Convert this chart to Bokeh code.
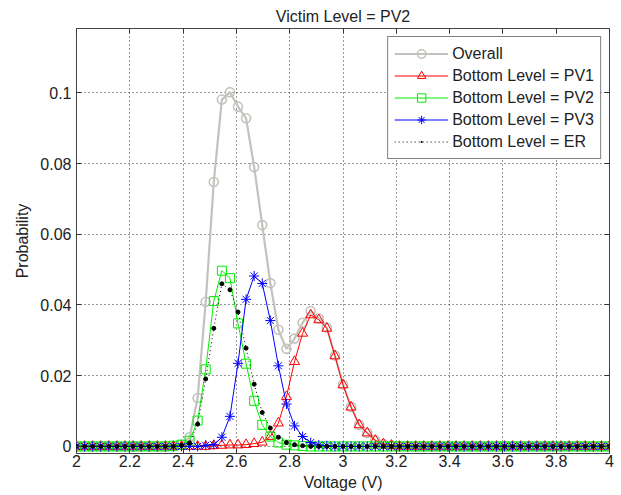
import numpy as np
from bokeh.plotting import figure
from bokeh.models import Range1d, FixedTicker, LinearAxis, Legend, LegendItem
from bokeh.embed import file_html
from bokeh.resources import INLINE

# ---------------- data ----------------
voltage = np.round(np.linspace(2.0, 4.0, 67), 5)

overall = ([0.0] * 13 +
           [0.0005, 0.0026, 0.0137, 0.0409, 0.0748, 0.0981, 0.1002, 0.0961, 0.0928,
            0.0790, 0.0626, 0.0462, 0.0330, 0.0276, 0.0305, 0.0350, 0.0383, 0.0362,
            0.0336, 0.0257, 0.0175, 0.0112, 0.0061, 0.0038, 0.0017, 0.0007, 0.0003] +
           [0.0] * 27)

pv1 = ([0.0] * 17 +
       [0.0002, 0.0003, 0.0004, 0.0004, 0.0005, 0.0008, 0.0012, 0.0028, 0.0066,
        0.0141, 0.0240, 0.0320, 0.0372, 0.0358, 0.0334, 0.0256, 0.0174, 0.0111,
        0.0061, 0.0038, 0.0017, 0.0007, 0.0003] +
       [0.0] * 27)

pv2 = ([0.0] * 12 +
       [0.0002, 0.0005, 0.0016, 0.0073, 0.0218, 0.0411, 0.0497, 0.0476, 0.0348,
        0.0234, 0.0129, 0.0061, 0.0028, 0.0011, 0.0005, 0.0003, 0.0001] +
       [0.0] * 38)

pv3 = ([0.0] * 16 +
       [0.0003, 0.0005, 0.0026, 0.0085, 0.0235, 0.0416, 0.0482, 0.0461, 0.0356,
        0.0228, 0.0120, 0.0058, 0.0028, 0.0011, 0.0004, 0.0002] +
       [0.0] * 35)

er = ([0.0] * 13 +
      [0.0003, 0.0010, 0.0063, 0.0191, 0.0334, 0.0460, 0.0443, 0.0380, 0.0278,
       0.0176, 0.0096, 0.0052, 0.0026, 0.0011, 0.0005, 0.0002] +
      [0.0] * 38)

x_ticks = [2.0, 2.2, 2.4, 2.6, 2.8, 3.0, 3.2, 3.4, 3.6, 3.8, 4.0]
x_tick_labels = ["2", "2.2", "2.4", "2.6", "2.8", "3", "3.2", "3.4", "3.6", "3.8", "4"]
y_ticks = [0.0, 0.02, 0.04, 0.06, 0.08, 0.1]
y_tick_labels = ["0", "0.02", "0.04", "0.06", "0.08", "0.1"]

series_labels = ["Overall", "Bottom Level = PV1", "Bottom Level = PV2",
                 "Bottom Level = PV3", "Bottom Level = ER"]

# ---------------- figure ----------------
FONT = "Liberation Sans"
TXT = "#222222"

p = figure(width=616, height=494,
           x_range=Range1d(2, 4), y_range=Range1d(-0.002, 0.1182),
           output_backend="svg", toolbar_location=None,
           min_border_left=76, min_border_right=7,
           min_border_top=28, min_border_bottom=41,
           title="Victim Level = PV2")

p.title.align = "center"
p.title.text_font = FONT
p.title.text_font_size = "16px"
p.title.text_font_style = "normal"
p.title.text_color = TXT
p.title.standoff = 8
p.title.offset = 0

p.outline_line_color = "#444444"
p.outline_line_width = 1
p.background_fill_color = "white"
p.border_fill_color = "white"

xt = FixedTicker(ticks=x_ticks)
yt = FixedTicker(ticks=y_ticks)


def style_axis(ax, ticker, labels=None):
    ax.ticker = ticker
    ax.axis_line_color = None
    ax.major_tick_in = 5
    ax.major_tick_out = 0
    ax.minor_tick_line_color = None
    ax.major_tick_line_color = "#333333"
    ax.major_label_text_font = FONT
    ax.major_label_text_color = TXT
    ax.axis_label_text_font = FONT
    ax.axis_label_text_font_size = "16px"
    ax.axis_label_text_font_style = "normal"
    ax.axis_label_text_color = TXT
    if labels is None:
        ax.major_label_text_font_size = "0px"
        ax.major_label_text_color = None
        ax.major_label_standoff = 0
    else:
        ax.major_label_text_font_size = "16px"
        ax.major_label_overrides = labels


style_axis(p.xaxis[0], xt, {v: s for v, s in zip(x_ticks, x_tick_labels)})
style_axis(p.yaxis[0], yt, {v: s for v, s in zip(y_ticks, y_tick_labels)})
p.xaxis[0].major_label_standoff = 1
p.xaxis[0].axis_label = "Voltage (V)"
p.xaxis[0].axis_label_standoff = 4
p.yaxis[0].major_label_standoff = 5
p.yaxis[0].axis_label = "Probability"
p.yaxis[0].axis_label_standoff = 6

top_ax = LinearAxis()
style_axis(top_ax, xt)
p.add_layout(top_ax, "above")
right_ax = LinearAxis()
style_axis(right_ax, yt)
p.add_layout(right_ax, "right")

for g in (p.xgrid[0], p.ygrid[0]):
    g.grid_line_color = "#333333"
    g.grid_line_dash = "1 3"
    g.grid_line_width = 1
p.xgrid[0].ticker = xt
p.ygrid[0].ticker = yt

# ---------------- series ----------------
items = []

GRAY = "#c4c2bd"
l0 = p.line(voltage, overall, line_color=GRAY, line_width=2.2)
s0 = p.scatter(voltage, overall, marker="circle", size=9, fill_color=None,
               line_color=GRAY, line_width=1.6)
items.append(LegendItem(label=series_labels[0], renderers=[l0, s0]))

l1 = p.line(voltage, pv1, line_color="#ff0000", line_width=1)
s1 = p.scatter(voltage, pv1, marker="triangle", size=10, fill_color=None,
               line_color="#ff0000", line_width=1)
items.append(LegendItem(label=series_labels[1], renderers=[l1, s1]))

l2 = p.line(voltage, pv2, line_color="#00ee00", line_width=1)
s2 = p.scatter(voltage, pv2, marker="square", size=9, fill_color=None,
               line_color="#00ee00", line_width=1)
items.append(LegendItem(label=series_labels[2], renderers=[l2, s2]))

l3 = p.line(voltage, pv3, line_color="#0000ff", line_width=1)
s3 = p.scatter(voltage, pv3, marker="asterisk", size=10,
               line_color="#0000ff", line_width=1)
items.append(LegendItem(label=series_labels[3], renderers=[l3, s3]))

l4 = p.line(voltage, er, line_color="#000000", line_width=1, line_dash="1 3")
s4 = p.scatter(voltage, er, marker="circle", size=4, fill_color="#000000",
               line_color="#000000")
s4d = p.scatter(voltage, er, marker="dot", size=4, line_color="#000000",
                line_width=3)
items.append(LegendItem(label=series_labels[4], renderers=[l4, s4d]))

legend = Legend(items=items, location="top_right")
legend.border_line_color = "#000000"
legend.border_line_width = 1
legend.background_fill_color = "white"
legend.background_fill_alpha = 1
legend.label_text_font = FONT
legend.label_text_font_size = "16px"
legend.label_text_color = TXT
legend.glyph_width = 54
legend.glyph_height = 21
legend.label_height = 21
legend.label_standoff = 4
legend.spacing = 1
legend.padding = 6
legend.margin = 8
p.add_layout(legend)

open("out.html", "w").write(file_html(p, INLINE))
